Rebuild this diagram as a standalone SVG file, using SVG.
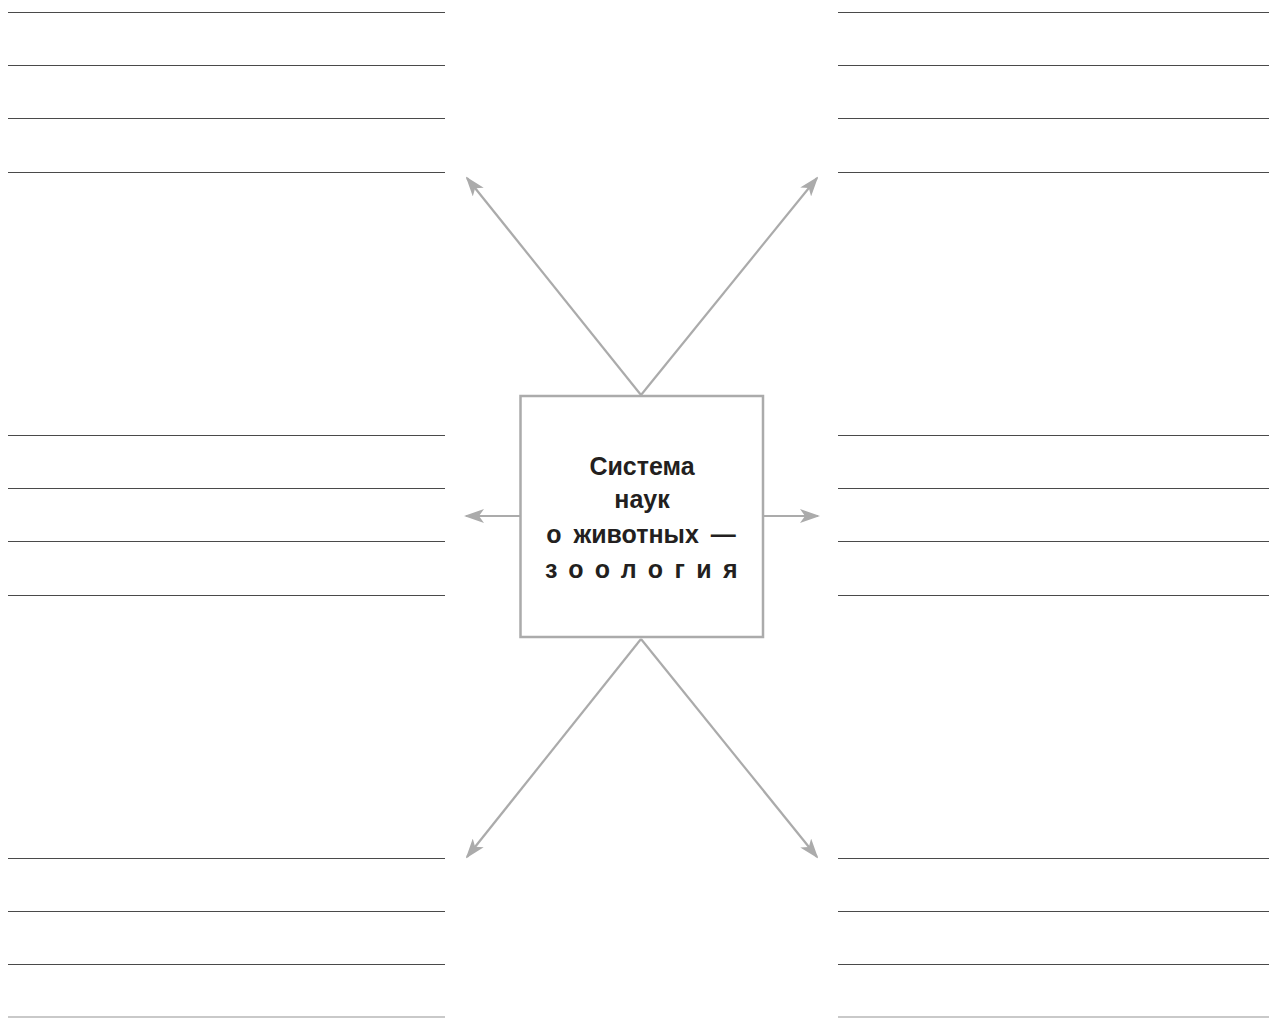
<svg xmlns="http://www.w3.org/2000/svg" width="1271" height="1018" viewBox="0 0 1271 1018">
<style>
.ln{stroke:#4a4a4a;stroke-width:1;fill:none}
.ln2{stroke:#b8b8b8;stroke-width:1.5;fill:none}
.con{stroke:#ababab;stroke-width:2.2;fill:none}
.box{stroke:#ababab;stroke-width:2.5;fill:#fff}
.t{font-family:"Liberation Sans",Arial,sans-serif;font-weight:bold;font-size:25px;fill:#231f20;text-anchor:middle}
</style>
<defs>
<marker id="ah" viewBox="0 0 20 14" refX="18" refY="7" markerWidth="20" markerHeight="14" markerUnits="userSpaceOnUse" orient="auto">
<path d="M0,0 L20,7 L0,14 L5,7 Z" fill="#ababab"/>
</marker>
</defs>
<g id="lines">
<path class="ln" d="M8,12.5H445M8,65.5H445M8,118.5H445M8,172.5H445M8,435.5H445M8,488.5H445M8,541.5H445M8,595.5H445M8,858.5H445M8,911.5H445M8,964.5H445"/>
<path class="ln" d="M838,12.5H1269M838,65.5H1269M838,118.5H1269M838,172.5H1269M838,435.5H1269M838,488.5H1269M838,541.5H1269M838,595.5H1269M838,858.5H1269M838,911.5H1269M838,964.5H1269"/>
<path class="ln2" d="M8,1017H445M838,1017H1269"/>
</g>
<g id="connectors">
<line class="con" x1="641" y1="395" x2="467" y2="178" marker-end="url(#ah)"/>
<line class="con" x1="641" y1="395" x2="817" y2="178" marker-end="url(#ah)"/>
<line class="con" x1="641" y1="639" x2="467" y2="857" marker-end="url(#ah)"/>
<line class="con" x1="641" y1="639" x2="817" y2="857" marker-end="url(#ah)"/>
<line class="con" x1="520" y1="516" x2="466" y2="516" marker-end="url(#ah)"/>
<line class="con" x1="763" y1="516" x2="818" y2="516" marker-end="url(#ah)"/>
</g>
<g id="center">
<rect class="box" x="520.5" y="396" width="242.5" height="241"/>
<text class="t" x="642" y="475">Система</text>
<text class="t" x="642" y="508">наук</text>
<text class="t" x="641" y="543" word-spacing="5">о животных —</text>
<text class="t" x="647" y="578" letter-spacing="11.4">зоология</text>
</g>
</svg>
